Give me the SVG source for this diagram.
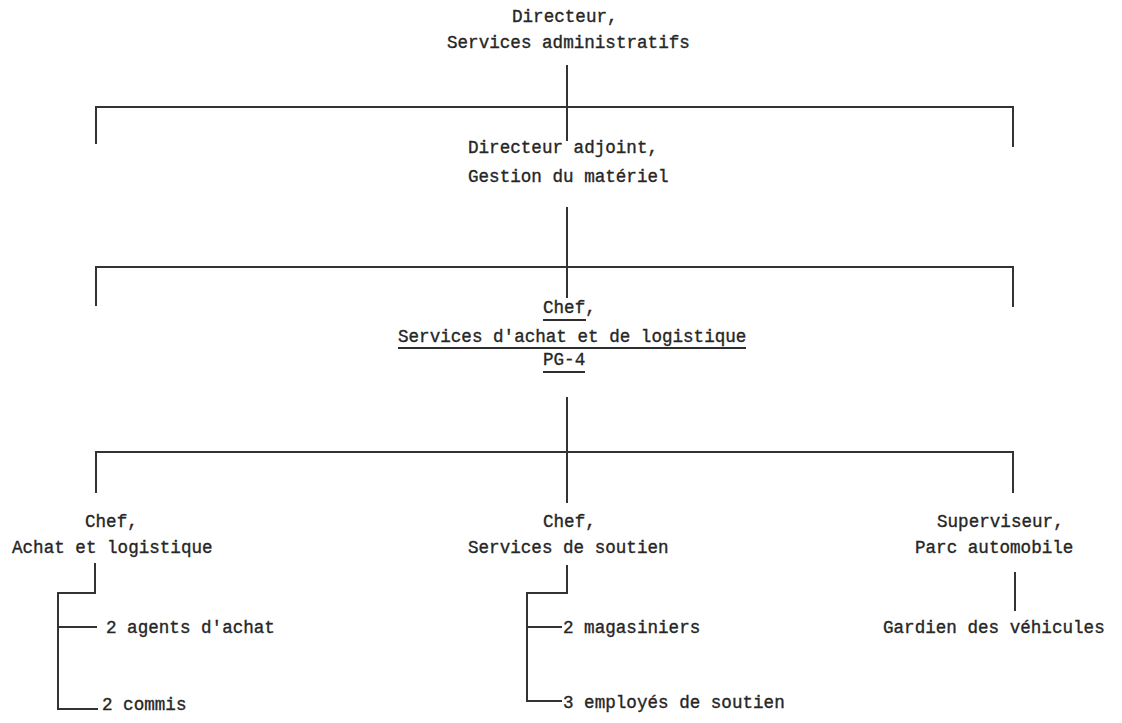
<svg xmlns="http://www.w3.org/2000/svg" width="1122" height="723" viewBox="0 0 1122 723">
  <style>
    .bg { fill: #ffffff; }
    text { font-family: "Liberation Mono", "DejaVu Sans Mono", monospace; font-size: 17.6px; fill: #262626; stroke: #262626; stroke-width: 0.35px; }
    .ln { stroke: #333333; stroke-width: 2; fill: none; stroke-linecap: square; }
    .ul { stroke: #2e2e2e; stroke-width: 1.8; }
  </style>
  <rect class="bg" x="0" y="0" width="1122" height="723"/>

  <!-- connectors -->
  <g id="connectors">
    <!-- level 1 -->
    <line class="ln" x1="567" y1="66" x2="567" y2="140"/>
    <path class="ln" d="M96 143 V107 H1013 V146"/>
    <!-- level 2 -->
    <line class="ln" x1="567" y1="208" x2="567" y2="297"/>
    <path class="ln" d="M96 305 V267 H1013 V306"/>
    <!-- level 3 -->
    <line class="ln" x1="567" y1="398" x2="567" y2="502"/>
    <path class="ln" d="M96 492 V452 H1013 V492"/>
    <!-- Achat et logistique staff -->
    <path class="ln" d="M95 564 V593 H58 V709 H97"/>
    <line class="ln" x1="58" y1="627" x2="96" y2="627"/>
    <!-- Services de soutien staff -->
    <path class="ln" d="M567 566 V593 H527 V701 H561"/>
    <line class="ln" x1="527" y1="627" x2="561" y2="627"/>
    <!-- Parc automobile -->
    <line class="ln" x1="1015" y1="573" x2="1015" y2="610"/>
  </g>

  <g id="n-directeur">
    <text x="512" y="22">Directeur,</text>
    <text x="447" y="48">Services administratifs</text>
  </g>

  <g id="n-adjoint">
    <text x="468" y="153">Directeur adjoint,</text>
    <text x="468" y="182">Gestion du matériel</text>
  </g>

  <g id="n-chef">
    <text x="543" y="313">Chef,</text>
    <line class="ul" x1="543" y1="320" x2="586" y2="320"/>
    <text x="398" y="342">Services d'achat et de logistique</text>
    <line class="ul" x1="398" y1="348" x2="746" y2="348"/>
    <text x="543" y="365">PG-4</text>
    <line class="ul" x1="543" y1="372" x2="585" y2="372"/>
  </g>

  <g id="n-achat">
    <text x="85" y="527">Chef,</text>
    <text x="12" y="553">Achat et logistique</text>
  </g>

  <g id="n-soutien">
    <text x="543" y="527">Chef,</text>
    <text x="468" y="553">Services de soutien</text>
  </g>

  <g id="n-parc">
    <text x="937" y="527">Superviseur,</text>
    <text x="915" y="553">Parc automobile</text>
  </g>

  <g id="n-agents">
    <text x="106" y="633">2 agents d'achat</text>
  </g>

  <g id="n-commis">
    <text x="102" y="710">2 commis</text>
  </g>

  <g id="n-magasiniers">
    <text x="563" y="633">2 magasiniers</text>
  </g>

  <g id="n-employes">
    <text x="563" y="708">3 employés de soutien</text>
  </g>

  <g id="n-gardien">
    <text x="883" y="633">Gardien des véhicules</text>
  </g>
</svg>
